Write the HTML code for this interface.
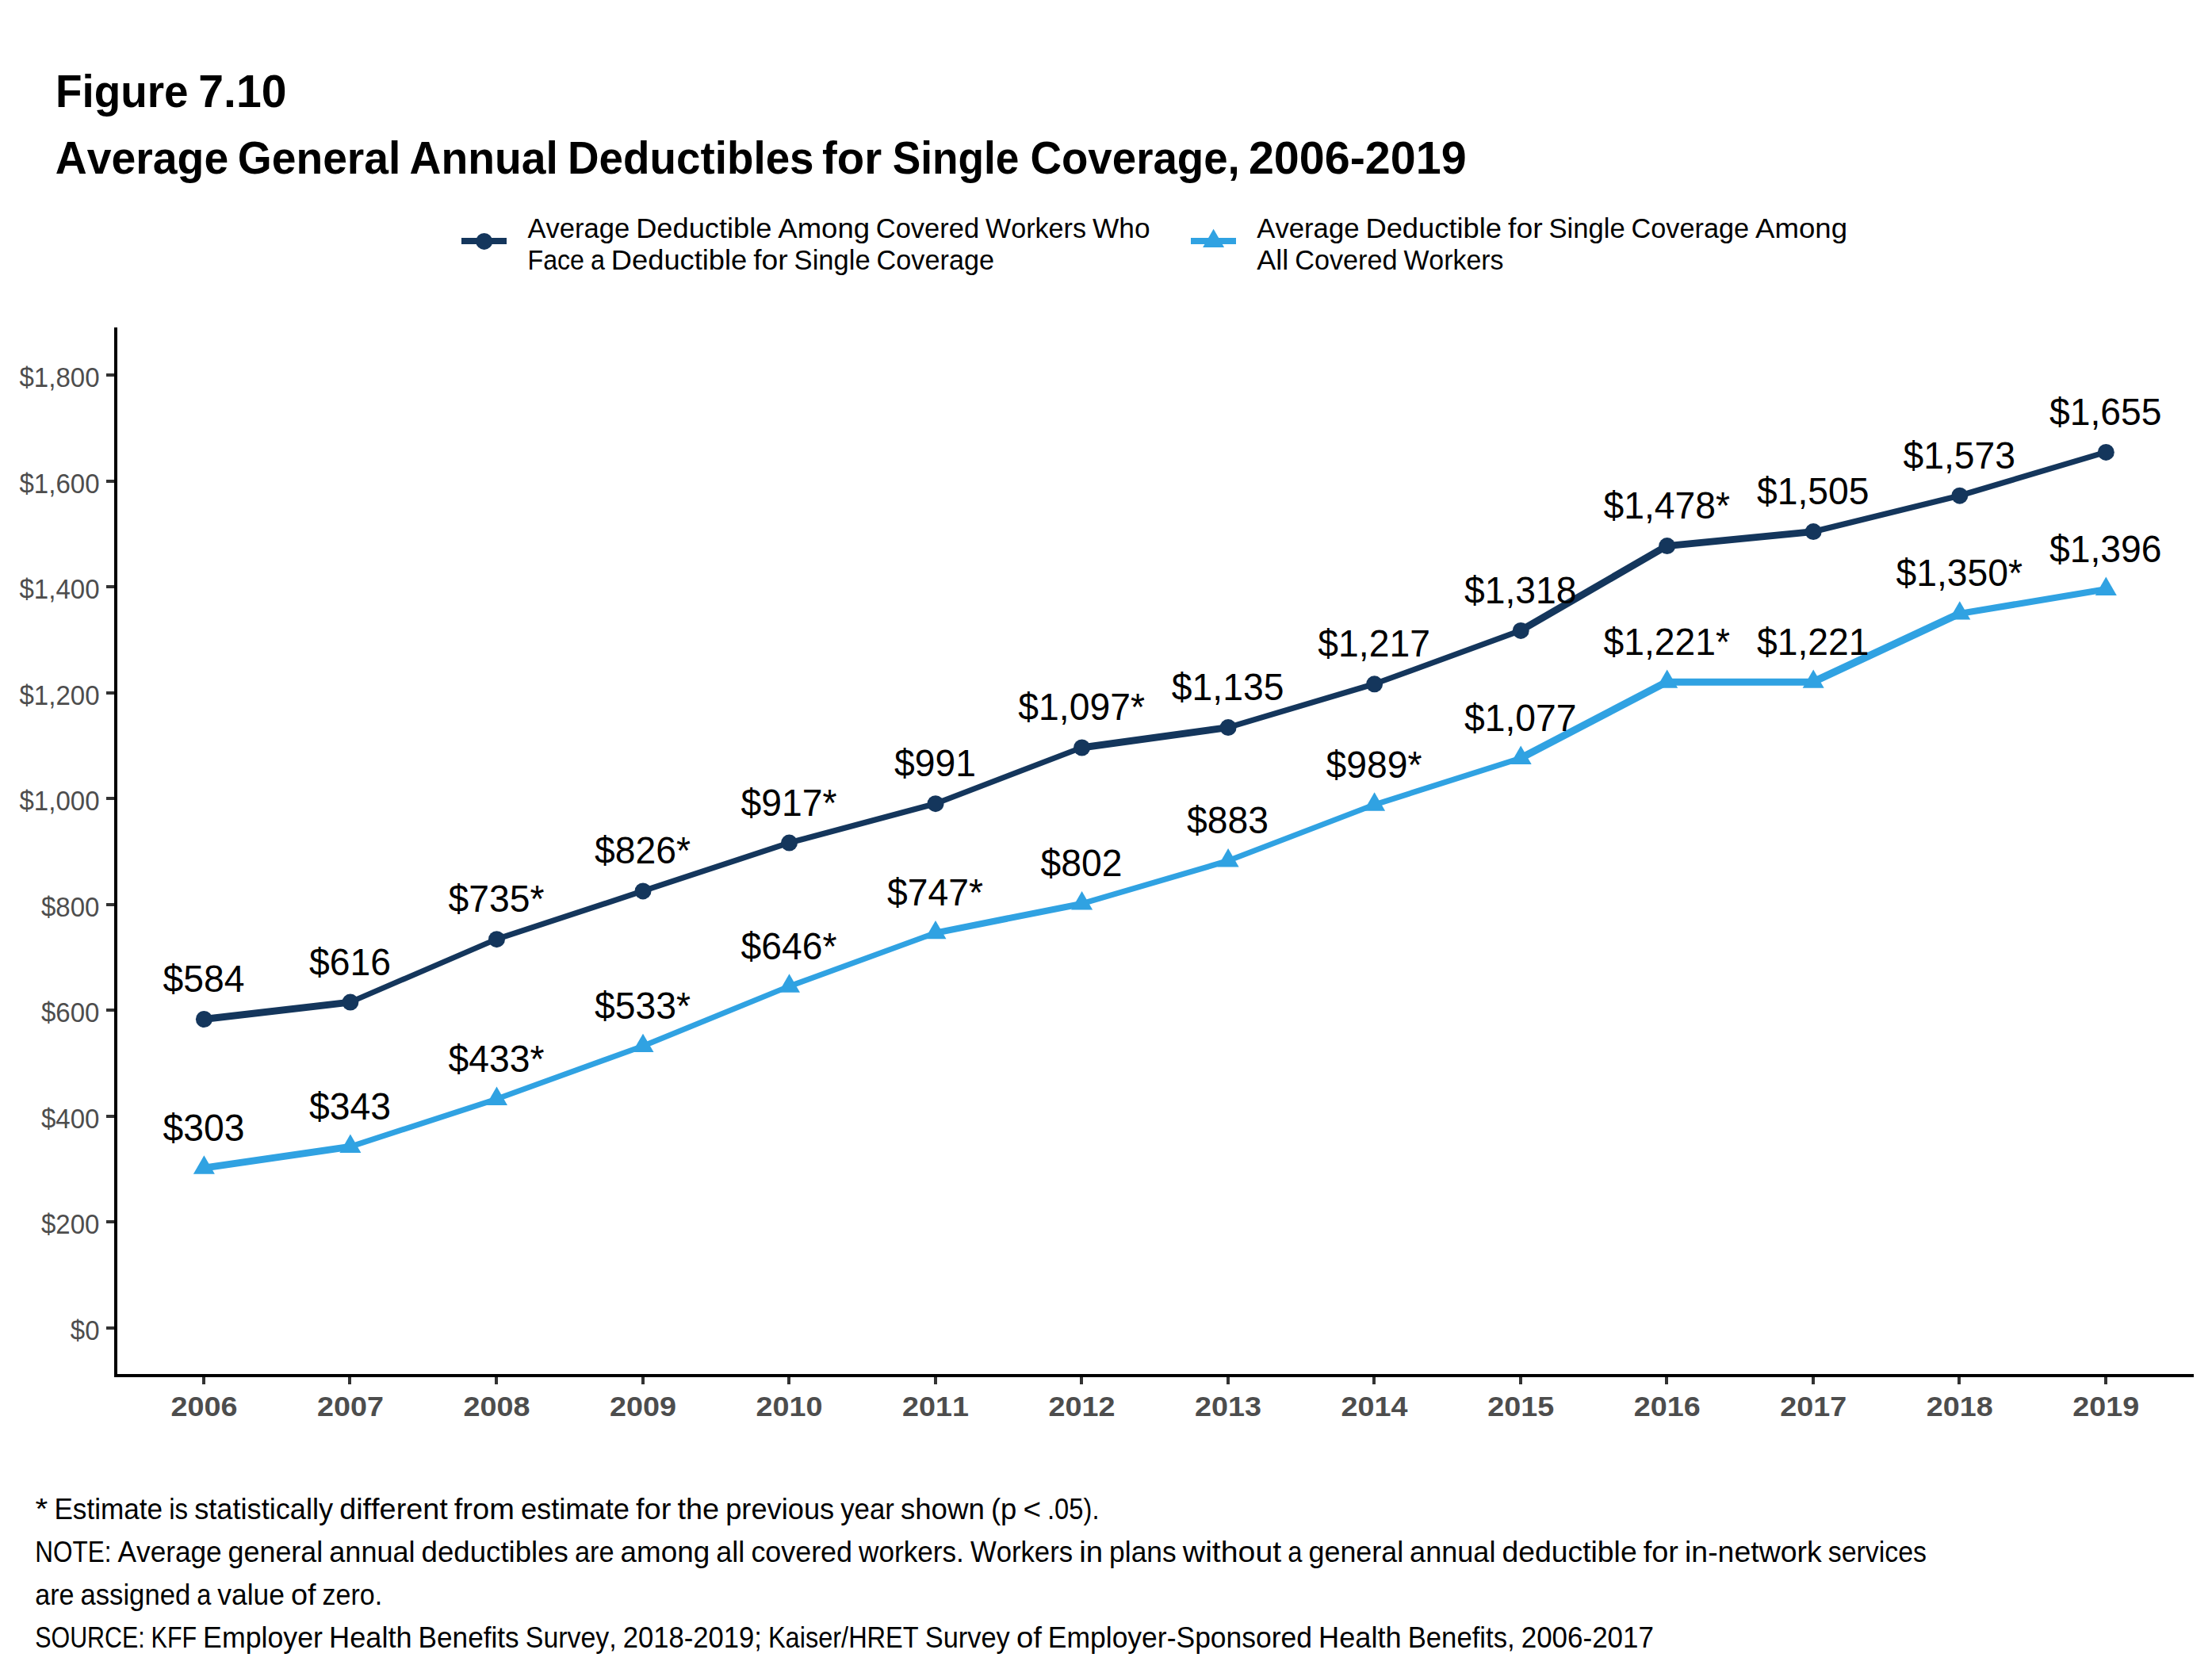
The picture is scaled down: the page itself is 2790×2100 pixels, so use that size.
<!DOCTYPE html>
<html lang="en">
<head>
<meta charset="utf-8">
<title>Figure 7.10 Average General Annual Deductibles for Single Coverage, 2006-2019</title>
<style>
html,body{margin:0;padding:0;background:#fff;}
body{width:2790px;height:2100px;overflow:hidden;}
svg{display:block;}
text{font-family:"Liberation Sans",sans-serif;font-kerning:none;}
.ttl{font-weight:bold;font-size:57px;fill:#000;}
.leg{font-size:35.5px;fill:#000;}
.note{font-size:36.5px;fill:#000;}
.yl{font-size:34.3px;fill:#4d4d4d;text-anchor:end;}
.xl{font-size:35.3px;font-weight:bold;fill:#4d4d4d;text-anchor:middle;}
.dl{font-size:48.5px;fill:#000;text-anchor:middle;}
</style>
</head>
<body>
<svg width="2790" height="2100" viewBox="0 0 2790 2100">
<rect x="0" y="0" width="2790" height="2100" fill="#ffffff"/>
<text class="ttl" y="135.1"><tspan x="70.0" textLength="167.6" lengthAdjust="spacingAndGlyphs">Figure</tspan> <tspan x="250.3" textLength="111.2" lengthAdjust="spacingAndGlyphs">7.10</tspan></text>
<text class="ttl" y="219.0"><tspan x="69.8" textLength="218.4" lengthAdjust="spacingAndGlyphs">Average</tspan> <tspan x="299.8" textLength="205.6" lengthAdjust="spacingAndGlyphs">General</tspan> <tspan x="516.5" textLength="187.3" lengthAdjust="spacingAndGlyphs">Annual</tspan> <tspan x="716.0" textLength="310.6" lengthAdjust="spacingAndGlyphs">Deductibles</tspan> <tspan x="1037.0" textLength="75.2" lengthAdjust="spacingAndGlyphs">for</tspan> <tspan x="1125.7" textLength="159.7" lengthAdjust="spacingAndGlyphs">Single</tspan> <tspan x="1299.5" textLength="264.3" lengthAdjust="spacingAndGlyphs">Coverage,</tspan> <tspan x="1574.9" textLength="274.7" lengthAdjust="spacingAndGlyphs">2006-2019</tspan></text>
<g shape-rendering="crispEdges"><rect x="582" y="300" width="57" height="8" fill="#14365c"/><rect x="1502" y="300" width="57" height="8" fill="#30a2e2"/></g>
<circle cx="610.7" cy="304.4" r="10.5" fill="#14365c"/>
<polygon points="1530.6,288.8 1544.1,312 1517.1,312" fill="#30a2e2"/>
<text class="leg" y="299.7"><tspan x="665.5" textLength="128.8" lengthAdjust="spacingAndGlyphs">Average</tspan> <tspan x="802.2" textLength="171.2" lengthAdjust="spacingAndGlyphs">Deductible</tspan> <tspan x="981.3" textLength="115.7" lengthAdjust="spacingAndGlyphs">Among</tspan> <tspan x="1104.8" textLength="130.3" lengthAdjust="spacingAndGlyphs">Covered</tspan> <tspan x="1243.0" textLength="127.0" lengthAdjust="spacingAndGlyphs">Workers</tspan> <tspan x="1378.0" textLength="72.5" lengthAdjust="spacingAndGlyphs">Who</tspan></text>
<text class="leg" y="339.7"><tspan x="665.5" textLength="71.5" lengthAdjust="spacingAndGlyphs">Face</tspan> <tspan x="744.9" textLength="18.0" lengthAdjust="spacingAndGlyphs">a</tspan> <tspan x="770.8" textLength="171.5" lengthAdjust="spacingAndGlyphs">Deductible</tspan> <tspan x="950.2" textLength="43.5" lengthAdjust="spacingAndGlyphs">for</tspan> <tspan x="1001.6" textLength="96.1" lengthAdjust="spacingAndGlyphs">Single</tspan> <tspan x="1105.6" textLength="148.4" lengthAdjust="spacingAndGlyphs">Coverage</tspan></text>
<text class="leg" y="299.7"><tspan x="1585.3" textLength="129.2" lengthAdjust="spacingAndGlyphs">Average</tspan> <tspan x="1722.4" textLength="171.7" lengthAdjust="spacingAndGlyphs">Deductible</tspan> <tspan x="1902.0" textLength="43.6" lengthAdjust="spacingAndGlyphs">for</tspan> <tspan x="1953.5" textLength="96.2" lengthAdjust="spacingAndGlyphs">Single</tspan> <tspan x="2057.6" textLength="148.5" lengthAdjust="spacingAndGlyphs">Coverage</tspan> <tspan x="2214.0" textLength="116.0" lengthAdjust="spacingAndGlyphs">Among</tspan></text>
<text class="leg" y="339.7"><tspan x="1585.3" textLength="40.0" lengthAdjust="spacingAndGlyphs">All</tspan> <tspan x="1633.2" textLength="129.4" lengthAdjust="spacingAndGlyphs">Covered</tspan> <tspan x="1770.4" textLength="126.1" lengthAdjust="spacingAndGlyphs">Workers</tspan></text>
<g shape-rendering="crispEdges">
<rect x="144" y="413" width="4" height="1324" fill="#000"/>
<rect x="144" y="1733" width="2623" height="4" fill="#000"/>
<rect x="134" y="1672.8" width="10" height="4" fill="#333"/>
<rect x="134" y="1539.3" width="10" height="4" fill="#333"/>
<rect x="134" y="1405.7" width="10" height="4" fill="#333"/>
<rect x="134" y="1272.2" width="10" height="4" fill="#333"/>
<rect x="134" y="1138.7" width="10" height="4" fill="#333"/>
<rect x="134" y="1005.1" width="10" height="4" fill="#333"/>
<rect x="134" y="871.6" width="10" height="4" fill="#333"/>
<rect x="134" y="738.1" width="10" height="4" fill="#333"/>
<rect x="134" y="604.5" width="10" height="4" fill="#333"/>
<rect x="134" y="471.0" width="10" height="4" fill="#333"/>
<rect x="254.9" y="1737" width="4" height="9" fill="#333"/>
<rect x="439.4" y="1737" width="4" height="9" fill="#333"/>
<rect x="624.0" y="1737" width="4" height="9" fill="#333"/>
<rect x="808.5" y="1737" width="4" height="9" fill="#333"/>
<rect x="993.0" y="1737" width="4" height="9" fill="#333"/>
<rect x="1177.5" y="1737" width="4" height="9" fill="#333"/>
<rect x="1362.1" y="1737" width="4" height="9" fill="#333"/>
<rect x="1546.6" y="1737" width="4" height="9" fill="#333"/>
<rect x="1731.1" y="1737" width="4" height="9" fill="#333"/>
<rect x="1915.7" y="1737" width="4" height="9" fill="#333"/>
<rect x="2100.2" y="1737" width="4" height="9" fill="#333"/>
<rect x="2284.7" y="1737" width="4" height="9" fill="#333"/>
<rect x="2469.3" y="1737" width="4" height="9" fill="#333"/>
<rect x="2653.8" y="1737" width="4" height="9" fill="#333"/>
</g>
<text class="yl" x="125.5" y="1689.9" textLength="36.7" lengthAdjust="spacingAndGlyphs">$0</text>
<text class="yl" x="125.5" y="1556.4" textLength="73.5" lengthAdjust="spacingAndGlyphs">$200</text>
<text class="yl" x="125.5" y="1422.8" textLength="73.5" lengthAdjust="spacingAndGlyphs">$400</text>
<text class="yl" x="125.5" y="1289.3" textLength="73.5" lengthAdjust="spacingAndGlyphs">$600</text>
<text class="yl" x="125.5" y="1155.8" textLength="73.5" lengthAdjust="spacingAndGlyphs">$800</text>
<text class="yl" x="125.5" y="1022.2" textLength="101.0" lengthAdjust="spacingAndGlyphs">$1,000</text>
<text class="yl" x="125.5" y="888.7" textLength="101.0" lengthAdjust="spacingAndGlyphs">$1,200</text>
<text class="yl" x="125.5" y="755.2" textLength="101.0" lengthAdjust="spacingAndGlyphs">$1,400</text>
<text class="yl" x="125.5" y="621.6" textLength="101.0" lengthAdjust="spacingAndGlyphs">$1,600</text>
<text class="yl" x="125.5" y="488.1" textLength="101.0" lengthAdjust="spacingAndGlyphs">$1,800</text>
<text class="xl" x="257.4" y="1785.8" textLength="84" lengthAdjust="spacingAndGlyphs">2006</text>
<text class="xl" x="441.9" y="1785.8" textLength="84" lengthAdjust="spacingAndGlyphs">2007</text>
<text class="xl" x="626.5" y="1785.8" textLength="84" lengthAdjust="spacingAndGlyphs">2008</text>
<text class="xl" x="811.0" y="1785.8" textLength="84" lengthAdjust="spacingAndGlyphs">2009</text>
<text class="xl" x="995.5" y="1785.8" textLength="84" lengthAdjust="spacingAndGlyphs">2010</text>
<text class="xl" x="1180.0" y="1785.8" textLength="84" lengthAdjust="spacingAndGlyphs">2011</text>
<text class="xl" x="1364.6" y="1785.8" textLength="84" lengthAdjust="spacingAndGlyphs">2012</text>
<text class="xl" x="1549.1" y="1785.8" textLength="84" lengthAdjust="spacingAndGlyphs">2013</text>
<text class="xl" x="1733.6" y="1785.8" textLength="84" lengthAdjust="spacingAndGlyphs">2014</text>
<text class="xl" x="1918.2" y="1785.8" textLength="84" lengthAdjust="spacingAndGlyphs">2015</text>
<text class="xl" x="2102.7" y="1785.8" textLength="84" lengthAdjust="spacingAndGlyphs">2016</text>
<text class="xl" x="2287.2" y="1785.8" textLength="84" lengthAdjust="spacingAndGlyphs">2017</text>
<text class="xl" x="2471.8" y="1785.8" textLength="84" lengthAdjust="spacingAndGlyphs">2018</text>
<text class="xl" x="2656.3" y="1785.8" textLength="84" lengthAdjust="spacingAndGlyphs">2019</text>
<g stroke="#14365c" stroke-linecap="round" fill="none">
<line x1="256.9" y1="1285.5" x2="441.4" y2="1264.1" stroke-width="8.94"/>
<line x1="441.4" y1="1264.1" x2="626.0" y2="1184.7" stroke-width="6.89"/>
<line x1="626.0" y1="1184.7" x2="810.5" y2="1123.9" stroke-width="7.12"/>
<line x1="810.5" y1="1123.9" x2="995.0" y2="1063.1" stroke-width="7.12"/>
<line x1="995.0" y1="1063.1" x2="1179.5" y2="1013.7" stroke-width="7.24"/>
<line x1="1179.5" y1="1013.7" x2="1364.1" y2="943.0" stroke-width="7.00"/>
<line x1="1364.1" y1="943.0" x2="1548.6" y2="917.6" stroke-width="8.92"/>
<line x1="1548.6" y1="917.6" x2="1733.1" y2="862.8" stroke-width="7.19"/>
<line x1="1733.1" y1="862.8" x2="1917.7" y2="795.4" stroke-width="7.04"/>
<line x1="1917.7" y1="795.4" x2="2102.2" y2="688.6" stroke-width="9.00"/>
<line x1="2102.2" y1="688.6" x2="2286.7" y2="670.6" stroke-width="8.96"/>
<line x1="2286.7" y1="670.6" x2="2471.3" y2="625.2" stroke-width="7.28"/>
<line x1="2471.3" y1="625.2" x2="2655.8" y2="570.4" stroke-width="7.19"/>
</g>
<g stroke="#30a2e2" stroke-linecap="round" fill="none">
<line x1="256.9" y1="1473.1" x2="441.4" y2="1446.4" stroke-width="8.91"/>
<line x1="441.4" y1="1446.4" x2="626.0" y2="1386.3" stroke-width="7.13"/>
<line x1="626.0" y1="1386.3" x2="810.5" y2="1319.5" stroke-width="7.05"/>
<line x1="810.5" y1="1319.5" x2="995.0" y2="1244.1" stroke-width="6.94"/>
<line x1="995.0" y1="1244.1" x2="1179.5" y2="1176.7" stroke-width="7.04"/>
<line x1="1179.5" y1="1176.7" x2="1364.1" y2="1139.9" stroke-width="8.14"/>
<line x1="1364.1" y1="1139.9" x2="1548.6" y2="1085.8" stroke-width="7.20"/>
<line x1="1548.6" y1="1085.8" x2="1733.1" y2="1015.1" stroke-width="7.00"/>
<line x1="1733.1" y1="1015.1" x2="1917.7" y2="956.3" stroke-width="7.15"/>
<line x1="1917.7" y1="956.3" x2="2102.2" y2="860.2" stroke-width="9.22"/>
<line x1="2102.2" y1="860.2" x2="2286.7" y2="860.2" stroke-width="9.00"/>
<line x1="2286.7" y1="860.2" x2="2471.3" y2="774.0" stroke-width="9.42"/>
<line x1="2471.3" y1="774.0" x2="2655.8" y2="743.3" stroke-width="8.19"/>
</g>
<circle cx="257.4" cy="1285.5" r="10.5" fill="#14365c"/>
<circle cx="441.9" cy="1264.1" r="10.5" fill="#14365c"/>
<circle cx="626.5" cy="1184.7" r="10.5" fill="#14365c"/>
<circle cx="811.0" cy="1123.9" r="10.5" fill="#14365c"/>
<circle cx="995.5" cy="1063.1" r="10.5" fill="#14365c"/>
<circle cx="1180.0" cy="1013.7" r="10.5" fill="#14365c"/>
<circle cx="1364.6" cy="943.0" r="10.5" fill="#14365c"/>
<circle cx="1549.1" cy="917.6" r="10.5" fill="#14365c"/>
<circle cx="1733.6" cy="862.8" r="10.5" fill="#14365c"/>
<circle cx="1918.2" cy="795.4" r="10.5" fill="#14365c"/>
<circle cx="2102.7" cy="688.6" r="10.5" fill="#14365c"/>
<circle cx="2287.2" cy="670.6" r="10.5" fill="#14365c"/>
<circle cx="2471.8" cy="625.2" r="10.5" fill="#14365c"/>
<circle cx="2656.3" cy="570.4" r="10.5" fill="#14365c"/>
<polygon points="257.4,1457.3 270.9,1480.7 243.9,1480.7" fill="#30a2e2"/>
<polygon points="441.9,1430.6 455.4,1454.0 428.4,1454.0" fill="#30a2e2"/>
<polygon points="626.5,1370.5 640.0,1393.9 613.0,1393.9" fill="#30a2e2"/>
<polygon points="811.0,1303.7 824.5,1327.1 797.5,1327.1" fill="#30a2e2"/>
<polygon points="995.5,1228.3 1009.0,1251.7 982.0,1251.7" fill="#30a2e2"/>
<polygon points="1180.0,1160.9 1193.5,1184.3 1166.5,1184.3" fill="#30a2e2"/>
<polygon points="1364.6,1124.1 1378.1,1147.5 1351.1,1147.5" fill="#30a2e2"/>
<polygon points="1549.1,1070.0 1562.6,1093.4 1535.6,1093.4" fill="#30a2e2"/>
<polygon points="1733.6,999.3 1747.1,1022.7 1720.1,1022.7" fill="#30a2e2"/>
<polygon points="1918.2,940.5 1931.7,963.9 1904.7,963.9" fill="#30a2e2"/>
<polygon points="2102.7,844.4 2116.2,867.8 2089.2,867.8" fill="#30a2e2"/>
<polygon points="2287.2,844.4 2300.7,867.8 2273.7,867.8" fill="#30a2e2"/>
<polygon points="2471.8,758.2 2485.3,781.6 2458.3,781.6" fill="#30a2e2"/>
<polygon points="2656.3,727.5 2669.8,750.9 2642.8,750.9" fill="#30a2e2"/>
<text class="dl" x="256.9" y="1250.9" textLength="103.0" lengthAdjust="spacingAndGlyphs">$584</text>
<text class="dl" x="441.4" y="1229.5" textLength="103.0" lengthAdjust="spacingAndGlyphs">$616</text>
<text class="dl" x="626.0" y="1150.1" textLength="121.0" lengthAdjust="spacingAndGlyphs">$735*</text>
<text class="dl" x="810.5" y="1089.3" textLength="121.0" lengthAdjust="spacingAndGlyphs">$826*</text>
<text class="dl" x="995.0" y="1028.5" textLength="121.0" lengthAdjust="spacingAndGlyphs">$917*</text>
<text class="dl" x="1179.5" y="979.1" textLength="103.0" lengthAdjust="spacingAndGlyphs">$991</text>
<text class="dl" x="1364.1" y="908.4" textLength="159.6" lengthAdjust="spacingAndGlyphs">$1,097*</text>
<text class="dl" x="1548.6" y="883.0" textLength="141.6" lengthAdjust="spacingAndGlyphs">$1,135</text>
<text class="dl" x="1733.1" y="828.2" textLength="141.6" lengthAdjust="spacingAndGlyphs">$1,217</text>
<text class="dl" x="1917.7" y="760.8" textLength="141.6" lengthAdjust="spacingAndGlyphs">$1,318</text>
<text class="dl" x="2102.2" y="654.0" textLength="159.6" lengthAdjust="spacingAndGlyphs">$1,478*</text>
<text class="dl" x="2286.7" y="636.0" textLength="141.6" lengthAdjust="spacingAndGlyphs">$1,505</text>
<text class="dl" x="2471.3" y="590.6" textLength="141.6" lengthAdjust="spacingAndGlyphs">$1,573</text>
<text class="dl" x="2655.8" y="535.8" textLength="141.6" lengthAdjust="spacingAndGlyphs">$1,655</text>
<text class="dl" x="256.9" y="1438.5" textLength="103.0" lengthAdjust="spacingAndGlyphs">$303</text>
<text class="dl" x="441.4" y="1411.8" textLength="103.0" lengthAdjust="spacingAndGlyphs">$343</text>
<text class="dl" x="626.0" y="1351.7" textLength="121.0" lengthAdjust="spacingAndGlyphs">$433*</text>
<text class="dl" x="810.5" y="1284.9" textLength="121.0" lengthAdjust="spacingAndGlyphs">$533*</text>
<text class="dl" x="995.0" y="1209.5" textLength="121.0" lengthAdjust="spacingAndGlyphs">$646*</text>
<text class="dl" x="1179.5" y="1142.1" textLength="121.0" lengthAdjust="spacingAndGlyphs">$747*</text>
<text class="dl" x="1364.1" y="1105.3" textLength="103.0" lengthAdjust="spacingAndGlyphs">$802</text>
<text class="dl" x="1548.6" y="1051.2" textLength="103.0" lengthAdjust="spacingAndGlyphs">$883</text>
<text class="dl" x="1733.1" y="980.5" textLength="121.0" lengthAdjust="spacingAndGlyphs">$989*</text>
<text class="dl" x="1917.7" y="921.7" textLength="141.6" lengthAdjust="spacingAndGlyphs">$1,077</text>
<text class="dl" x="2102.2" y="825.6" textLength="159.6" lengthAdjust="spacingAndGlyphs">$1,221*</text>
<text class="dl" x="2286.7" y="825.6" textLength="141.6" lengthAdjust="spacingAndGlyphs">$1,221</text>
<text class="dl" x="2471.3" y="739.4" textLength="159.6" lengthAdjust="spacingAndGlyphs">$1,350*</text>
<text class="dl" x="2655.8" y="708.7" textLength="141.6" lengthAdjust="spacingAndGlyphs">$1,396</text>
<text class="note" y="1915.6"><tspan x="44.6" textLength="15.8" lengthAdjust="spacingAndGlyphs">*</tspan> <tspan x="68.4" textLength="136.7" lengthAdjust="spacingAndGlyphs">Estimate</tspan> <tspan x="213.2" textLength="23.9" lengthAdjust="spacingAndGlyphs">is</tspan> <tspan x="245.2" textLength="175.0" lengthAdjust="spacingAndGlyphs">statistically</tspan> <tspan x="428.2" textLength="136.6" lengthAdjust="spacingAndGlyphs">different</tspan> <tspan x="572.8" textLength="76.0" lengthAdjust="spacingAndGlyphs">from</tspan> <tspan x="656.9" textLength="137.1" lengthAdjust="spacingAndGlyphs">estimate</tspan> <tspan x="802.0" textLength="44.4" lengthAdjust="spacingAndGlyphs">for</tspan> <tspan x="854.4" textLength="52.7" lengthAdjust="spacingAndGlyphs">the</tspan> <tspan x="915.2" textLength="137.0" lengthAdjust="spacingAndGlyphs">previous</tspan> <tspan x="1060.2" textLength="67.6" lengthAdjust="spacingAndGlyphs">year</tspan> <tspan x="1135.9" textLength="106.0" lengthAdjust="spacingAndGlyphs">shown</tspan> <tspan x="1249.9" textLength="32.4" lengthAdjust="spacingAndGlyphs">(p</tspan> <tspan x="1290.4" textLength="22.6" lengthAdjust="spacingAndGlyphs">&lt;</tspan> <tspan x="1321.0" textLength="65.5" lengthAdjust="spacingAndGlyphs">.05).</tspan></text>
<text class="note" y="1969.7"><tspan x="44.3" textLength="96.2" lengthAdjust="spacingAndGlyphs">NOTE:</tspan> <tspan x="148.6" textLength="131.1" lengthAdjust="spacingAndGlyphs">Average</tspan> <tspan x="287.6" textLength="119.6" lengthAdjust="spacingAndGlyphs">general</tspan> <tspan x="415.3" textLength="108.3" lengthAdjust="spacingAndGlyphs">annual</tspan> <tspan x="531.6" textLength="185.3" lengthAdjust="spacingAndGlyphs">deductibles</tspan> <tspan x="724.9" textLength="49.6" lengthAdjust="spacingAndGlyphs">are</tspan> <tspan x="782.5" textLength="112.7" lengthAdjust="spacingAndGlyphs">among</tspan> <tspan x="903.3" textLength="36.1" lengthAdjust="spacingAndGlyphs">all</tspan> <tspan x="947.4" textLength="127.6" lengthAdjust="spacingAndGlyphs">covered</tspan> <tspan x="1083.0" textLength="132.9" lengthAdjust="spacingAndGlyphs">workers.</tspan> <tspan x="1223.9" textLength="129.2" lengthAdjust="spacingAndGlyphs">Workers</tspan> <tspan x="1361.2" textLength="29.9" lengthAdjust="spacingAndGlyphs">in</tspan> <tspan x="1399.1" textLength="84.7" lengthAdjust="spacingAndGlyphs">plans</tspan> <tspan x="1491.8" textLength="124.4" lengthAdjust="spacingAndGlyphs">without</tspan> <tspan x="1624.2" textLength="18.2" lengthAdjust="spacingAndGlyphs">a</tspan> <tspan x="1650.5" textLength="119.6" lengthAdjust="spacingAndGlyphs">general</tspan> <tspan x="1778.1" textLength="108.3" lengthAdjust="spacingAndGlyphs">annual</tspan> <tspan x="1894.4" textLength="170.3" lengthAdjust="spacingAndGlyphs">deductible</tspan> <tspan x="2072.7" textLength="44.2" lengthAdjust="spacingAndGlyphs">for</tspan> <tspan x="2125.0" textLength="172.7" lengthAdjust="spacingAndGlyphs">in-network</tspan> <tspan x="2305.7" textLength="124.3" lengthAdjust="spacingAndGlyphs">services</tspan></text>
<text class="note" y="2023.9"><tspan x="44.3" textLength="49.3" lengthAdjust="spacingAndGlyphs">are</tspan> <tspan x="101.5" textLength="138.7" lengthAdjust="spacingAndGlyphs">assigned</tspan> <tspan x="248.2" textLength="18.1" lengthAdjust="spacingAndGlyphs">a</tspan> <tspan x="274.3" textLength="84.7" lengthAdjust="spacingAndGlyphs">value</tspan> <tspan x="366.9" textLength="31.6" lengthAdjust="spacingAndGlyphs">of</tspan> <tspan x="406.5" textLength="75.7" lengthAdjust="spacingAndGlyphs">zero.</tspan></text>
<text class="note" y="2078.0"><tspan x="44.3" textLength="138.3" lengthAdjust="spacingAndGlyphs">SOURCE:</tspan> <tspan x="190.6" textLength="57.5" lengthAdjust="spacingAndGlyphs">KFF</tspan> <tspan x="256.1" textLength="150.9" lengthAdjust="spacingAndGlyphs">Employer</tspan> <tspan x="415.1" textLength="104.5" lengthAdjust="spacingAndGlyphs">Health</tspan> <tspan x="527.6" textLength="127.1" lengthAdjust="spacingAndGlyphs">Benefits</tspan> <tspan x="662.8" textLength="114.9" lengthAdjust="spacingAndGlyphs">Survey,</tspan> <tspan x="785.8" textLength="175.1" lengthAdjust="spacingAndGlyphs">2018-2019;</tspan> <tspan x="968.9" textLength="189.8" lengthAdjust="spacingAndGlyphs">Kaiser/HRET</tspan> <tspan x="1166.7" textLength="107.1" lengthAdjust="spacingAndGlyphs">Survey</tspan> <tspan x="1281.9" textLength="31.9" lengthAdjust="spacingAndGlyphs">of</tspan> <tspan x="1321.8" textLength="333.3" lengthAdjust="spacingAndGlyphs">Employer-Sponsored</tspan> <tspan x="1663.1" textLength="104.5" lengthAdjust="spacingAndGlyphs">Health</tspan> <tspan x="1775.7" textLength="135.0" lengthAdjust="spacingAndGlyphs">Benefits,</tspan> <tspan x="1918.7" textLength="167.3" lengthAdjust="spacingAndGlyphs">2006-2017</tspan></text>
</svg>
</body>
</html>
